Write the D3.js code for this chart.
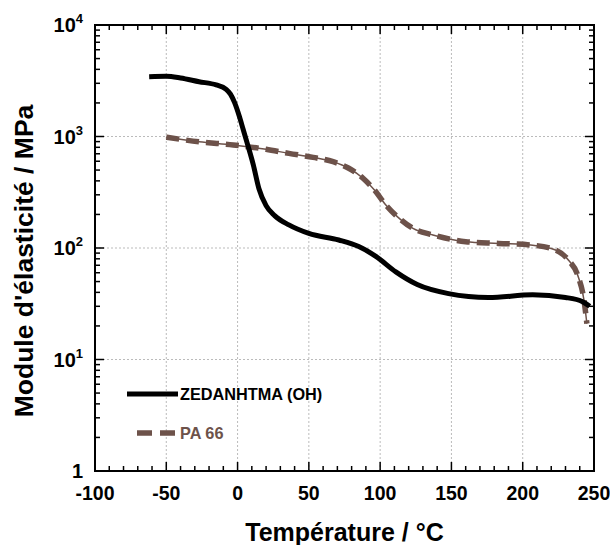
<!DOCTYPE html>
<html>
<head>
<meta charset="utf-8">
<script src="https://cdn.jsdelivr.net/npm/d3@7"></script>
<style>
  body { margin: 0; background: #fff; }
  text { font-family: "Liberation Sans", Arial, sans-serif; font-weight: bold; }
</style>
</head>
<body>
<div id="chart"></div>
<script>
// values
const zed_temp = [-62, -50, -40, -27, -15, -8, -5, -2, 1, 4, 7, 11, 15, 20, 26, 36, 50, 71, 85, 97, 111, 126, 148, 176, 207, 230, 242, 247]
const zed_mod = [3440, 3470, 3350, 3100, 2900, 2650, 2400, 2000, 1550, 1150, 850, 560, 340, 240, 195, 161, 135, 118, 103, 84, 61, 47, 39, 36, 38, 36, 33, 30]

const pa_temp = [-50, -27, -3, 20, 36, 53, 67, 78, 88, 96, 104, 112, 123, 137, 160, 183, 207, 223, 232, 239, 243, 245]
const pa_mod = [985, 897, 840, 768, 706, 650, 594, 519, 422, 331, 243, 191, 150, 131, 114, 110, 106, 96, 78, 55, 34, 21]

const x_ticks = [-100, -50, 0, 50, 100, 150, 200, 250]
const y_ticks = [1, 10, 100, 1000, 10000]
const series_names = ["ZEDANHTMA (OH)", "PA 66"]

const W = 610, H = 545
const margin = { top: 25, left: 95, right: 16, bottom: 74 }
const width = W - margin.left - margin.right
const height = H - margin.top - margin.bottom
const brown = "#6d524a"

let svg = d3.select("#chart")
    .append("svg")
    .attr("width", W)
    .attr("height", H)

let g = svg.append("g")
    .attr("transform", `translate(${margin.left}, ${margin.top})`)

let x = d3.scaleLinear().domain([-100, 250]).range([0, width])
let y = d3.scaleLog().domain([1, 10000]).range([height, 0])

// dotted grid
g.selectAll(".vgrid")
    .data(x_ticks.slice(1, -1))
    .enter().append("line")
    .attr("x1", d => x(d)).attr("x2", d => x(d))
    .attr("y1", 0).attr("y2", height)
    .attr("stroke", "#bbb").attr("stroke-dasharray", "2,2")

g.selectAll(".hgrid")
    .data(y_ticks.slice(1, -1))
    .enter().append("line")
    .attr("y1", d => y(d)).attr("y2", d => y(d))
    .attr("x1", 0).attr("x2", width)
    .attr("stroke", "#bbb").attr("stroke-dasharray", "2,2")

// inward ticks on all four sides
const xminor = d3.range(-100, 251, 10)
const yminor = []
for (let p = 0; p < 4; p++) for (let k = 1; k < 10; k++) yminor.push(k * Math.pow(10, p))
yminor.push(10000)

function bigX(d) { return d % 50 === 0 ? 9 : 5 }
function bigY(d) { return y_ticks.includes(d) ? 9 : 5 }

g.selectAll(".xb").data(xminor).enter().append("line")
    .attr("x1", d => x(d)).attr("x2", d => x(d))
    .attr("y1", height).attr("y2", d => height - bigX(d))
    .attr("stroke", "#000").attr("stroke-width", 1.5)
g.selectAll(".xt").data(xminor).enter().append("line")
    .attr("x1", d => x(d)).attr("x2", d => x(d))
    .attr("y1", 0).attr("y2", d => bigX(d))
    .attr("stroke", "#000").attr("stroke-width", 1.5)
g.selectAll(".yl").data(yminor).enter().append("line")
    .attr("y1", d => y(d)).attr("y2", d => y(d))
    .attr("x1", 0).attr("x2", d => bigY(d))
    .attr("stroke", "#000").attr("stroke-width", 1.5)
g.selectAll(".yr").data(yminor).enter().append("line")
    .attr("y1", d => y(d)).attr("y2", d => y(d))
    .attr("x1", width).attr("x2", d => width - bigY(d))
    .attr("stroke", "#000").attr("stroke-width", 1.5)

// frame
g.append("rect")
    .attr("width", width).attr("height", height)
    .attr("fill", "none").attr("stroke", "#000").attr("stroke-width", 2)

// tick labels
g.selectAll(".xlab").data(x_ticks).enter().append("text")
    .attr("x", d => x(d)).attr("y", height + 29)
    .attr("text-anchor", "middle")
    .attr("font-size", 19.5)
    .text(d => d)

let ylab = g.selectAll(".ylab").data(y_ticks).enter().append("text")
    .attr("x", -12).attr("y", d => y(d) + 7)
    .attr("text-anchor", "end")
    .attr("font-size", 20)
ylab.append("tspan").text(d => d === 1 ? "1" : "10")
ylab.filter(d => d > 1).append("tspan")
    .attr("dy", -9).attr("font-size", 13)
    .text(d => Math.round(Math.log10(d)))

// axis titles
svg.append("text")
    .attr("x", margin.left + width / 2).attr("y", 541)
    .attr("text-anchor", "middle").attr("font-size", 25)
    .text("Température / °C")

svg.append("text")
    .attr("transform", "translate(33, 261) rotate(-90)")
    .attr("text-anchor", "middle").attr("font-size", 26.5)
    .text("Module d'élasticité / MPa")

// curves
let line = d3.line()
    .x(d => x(d[0]))
    .y(d => y(d[1]))
    .curve(d3.curveMonotoneX)

let zed = zed_temp.map((t, i) => [t, zed_mod[i]])
let pa = pa_temp.map((t, i) => [t, pa_mod[i]])

g.append("path").datum(pa).attr("d", line)
    .attr("fill", "none").attr("stroke", brown).attr("stroke-width", 1.5)
g.append("path").datum(pa).attr("d", line)
    .attr("fill", "none").attr("stroke", brown).attr("stroke-width", 5.5)
    .attr("stroke-dasharray", "13,7")

g.append("path").datum(zed).attr("d", line)
    .attr("fill", "none").attr("stroke", "#000").attr("stroke-width", 5)

// legend
svg.append("line")
    .attr("x1", 127).attr("x2", 178).attr("y1", 394).attr("y2", 394)
    .attr("stroke", "#000").attr("stroke-width", 5)
svg.append("text")
    .attr("x", 180).attr("y", 400).attr("font-size", 16.3)
    .text(series_names[0])

svg.append("line")
    .attr("x1", 137).attr("x2", 176).attr("y1", 433).attr("y2", 433)
    .attr("stroke", brown).attr("stroke-width", 5.5).attr("stroke-dasharray", "15,8")
svg.append("text")
    .attr("x", 180).attr("y", 439).attr("font-size", 16.3)
    .attr("fill", brown)
    .text(series_names[1])
</script>
</body>
</html>
